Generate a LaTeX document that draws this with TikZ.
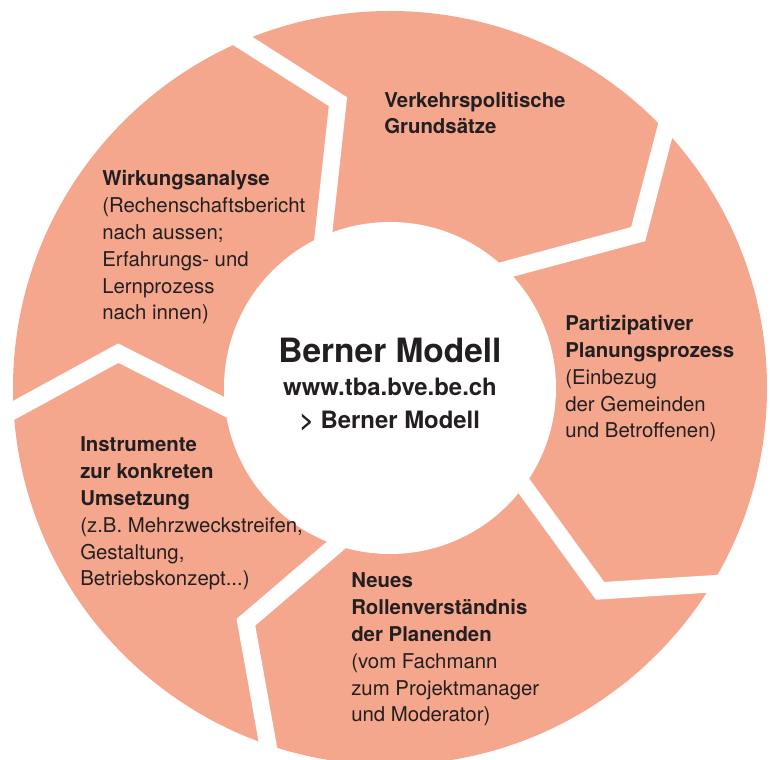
\documentclass[tikz,border=0pt]{standalone}
\usepackage{fontspec}
\setmainfont{TeX Gyre Heros}
\usetikzlibrary{calc}

\definecolor{lachs}{HTML}{F5A78D}
\definecolor{schrift}{HTML}{231F20}

\begin{document}
\begin{tikzpicture}[x=0.025cm,y=0.025cm,
					gap/.style={draw=white, line width=0.43cm, line join=miter},
					feld/.style={anchor=base west, align=left, inner sep=0, text=schrift,
						font=\fontsize{14.5pt}{19.1pt}\selectfont},
					mitte/.style={align=center, inner sep=0, text=schrift, font=\bfseries}
					]
	\useasboundingbox (-390,-372) rectangle (380,388); %page
	
	%ring---------------------------------------------------
	\fill[lachs] (0,0) circle (377); %outer disc
	\foreach \ain/\ab/\rb/\aout [count=\i] in {113.7/100.3/291/113.0, 45.5/31.8/292/43.1, -36.2/-44/292/-31.3, -108.9/-121.6/275/-108.9, 186.6/172.7/274/183.4}{
		\coordinate (in\i) at (\ain:166); %inner end
		\coordinate (knick\i) at (\ab:\rb); %bend
		\coordinate (out\i) at (\aout:377); %outer end
		\draw[gap] ($(knick\i)!1.3!(in\i)$) -- (knick\i) -- ($(knick\i)!1.2!(out\i)$); %white cut
	}
	\fill[white] (0,0) circle (166); %hub
	
	%hub text-----------------------------------------------
	\node[mitte, anchor=base, font=\bfseries\fontsize{23.8pt}{24pt}\selectfont] (titel) at (0,25) {Berner Modell}; %title
	\node[mitte, anchor=base, font=\bfseries\fontsize{17pt}{18pt}\selectfont] (url) at (0,-8) {www.tba.bve.be.ch}; %link
	\node[mitte, anchor=base, font=\bfseries\fontsize{17pt}{18pt}\selectfont] (verweis) at (0,-41) {> Berner Modell}; %link target
	
	%segments (base = last line)-----------------------------
	\node[feld] (grund) at (-6,254) {\textbf{Verkehrspolitische}\\\textbf{Grundsätze}}; %top
	\node[feld] (partizip) at (175,-50) {\textbf{Partizipativer}\\\textbf{Planungsprozess}\\(Einbezug\\der Gemeinden\\und Betroffenen)}; %right
	\node[feld] (rollen) at (-39,-334) {\textbf{Neues}\\\textbf{Rollenverständnis}\\\textbf{der Planenden}\\(vom Fachmann\\zum Projektmanager\\und Moderator)}; %bottom
	\node[feld] (instrumente) at (-310,-198) {\textbf{Instrumente}\\\textbf{zur konkreten}\\\textbf{Umsetzung}\\(z.B. Mehrzweckstreifen,\\Gestaltung,\\Betriebskonzept...)}; %left
	\node[feld] (wirkung) at (-288,68) {\textbf{Wirkungsanalyse}\\(Rechenschaftsbericht\\nach aussen;\\Erfahrungs- und\\Lernprozess\\nach innen)}; %top left
\end{tikzpicture}
\end{document}
